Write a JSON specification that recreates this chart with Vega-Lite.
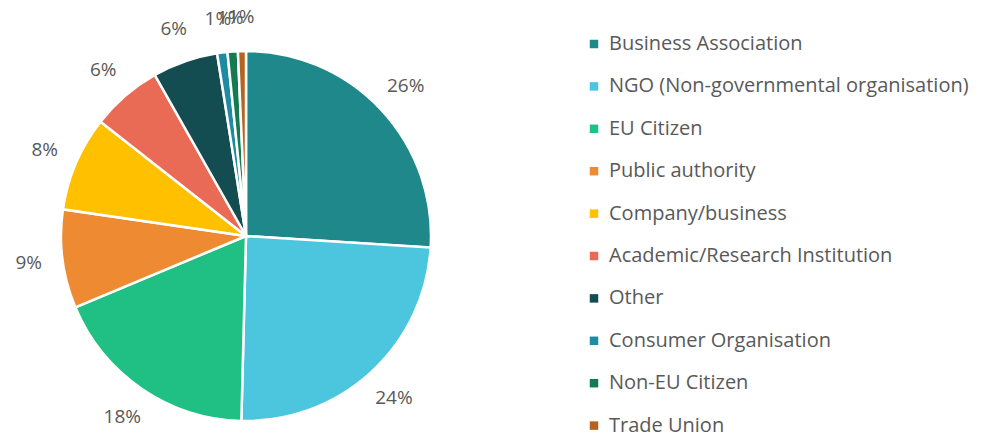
{
  "$schema": "https://vega.github.io/schema/vega-lite/v6.json",
  "autosize": "none",
  "width": 492,
  "height": 400,
  "padding": {"left": 0, "top": 36, "right": 503, "bottom": 1},
  "background": "white",
  "config": {"view": {"stroke": null}, "font": "Open Sans"},
  "data": {
    "values": [
      {"category": "Business Association", "share": 0.26, "rank": 1},
      {"category": "NGO (Non-governmental organisation)", "share": 0.244, "rank": 2},
      {"category": "EU Citizen", "share": 0.183, "rank": 3},
      {"category": "Public authority", "share": 0.086, "rank": 4},
      {"category": "Company/business", "share": 0.083, "rank": 5},
      {"category": "Academic/Research Institution", "share": 0.062, "rank": 6},
      {"category": "Other", "share": 0.057, "rank": 7},
      {"category": "Consumer Organisation", "share": 0.009, "rank": 8},
      {"category": "Non-EU Citizen", "share": 0.009, "rank": 9},
      {"category": "Trade Union", "share": 0.007, "rank": 10}
    ]
  },
  "encoding": {
    "theta": {"field": "share", "type": "quantitative", "stack": true},
    "order": {"field": "rank", "type": "quantitative"}
  },
  "layer": [
    {
      "mark": {"type": "arc", "outerRadius": 185, "stroke": "white", "strokeWidth": 2.5},
      "encoding": {
        "color": {
          "field": "category",
          "type": "nominal",
          "sort": null,
          "scale": {
            "domain": ["Business Association", "NGO (Non-governmental organisation)", "EU Citizen", "Public authority", "Company/business", "Academic/Research Institution", "Other", "Consumer Organisation", "Non-EU Citizen", "Trade Union"],
            "range": ["#1f888b", "#4bc6de", "#20c085", "#ee8b32", "#ffc000", "#ea6b55", "#134d52", "#1f8ba3", "#137a52", "#b5631e"]
          },
          "legend": {
            "orient": "none",
            "legendX": 584,
            "legendY": -2,
            "title": null,
            "symbolType": "square",
            "symbolSize": 72,
            "symbolStrokeWidth": 0,
            "labelFontSize": 20,
            "labelColor": "#595959",
            "labelFont": "Open Sans",
            "labelOffset": 5,
            "rowPadding": 22.4,
            "labelLimit": 500
          }
        }
      }
    },
    {
      "mark": {"type": "text", "radius": 219, "fontSize": 19, "color": "#595959", "font": "Open Sans"},
      "encoding": {
        "text": {"field": "share", "type": "quantitative", "format": ".0%"}
      }
    }
  ]
}
